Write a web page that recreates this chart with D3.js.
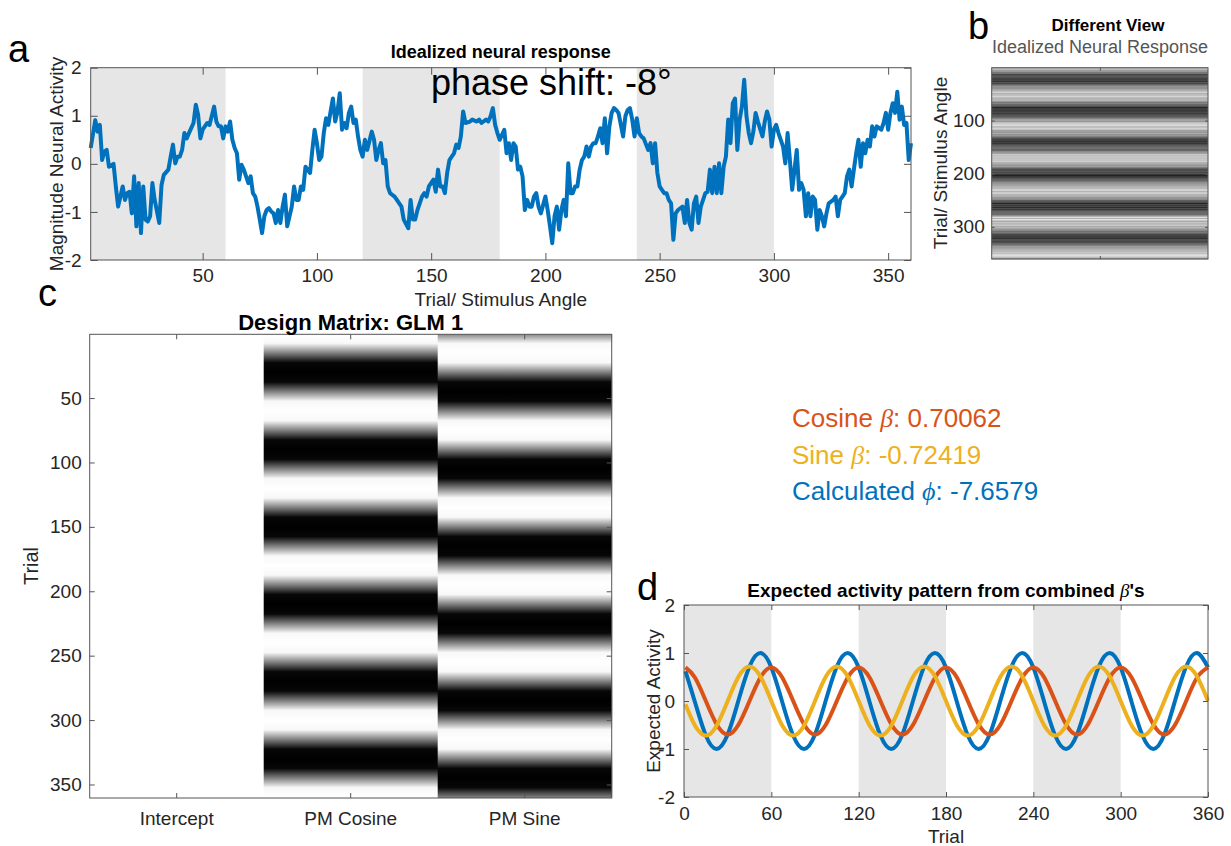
<!DOCTYPE html>
<html>
<head>
<meta charset="utf-8">
<script src="https://cdn.jsdelivr.net/npm/d3@7"></script>
<style>
  html, body { margin: 0; padding: 0; background: #fff; }
  svg { display: block; }
</style>
</head>
<body>
<svg id="fig" width="1231" height="846"></svg>
<script>
// ---- data ----
// panel a / b : idealized neural response, one value per (sampled) trial
const trialsA = [1,3,4,5,6,7,8,9,11,12,13,15,16,17,18,19,20,21,22,23,24,25,26,27,28,29,31,32,33,35,36,37,38,39,40,41,42,43,44,46,47,48,49,50,52,53,55,56,57,58,59,60,61,62,63,64,65,66,67,68,70,71,72,73,74,75,76,77,78,79,80,81,82,83,84,85,86,87,89,90,
  91,92,93,94,95,97,98,99,100,101,102,103,104,105,106,107,108,109,110,111,112,113,114,115,116,117,118,119,120,121,122,124,125,126,127,128,129,130,131,132,134,135,137,138,140,141,142,143,144,145,146,147,148,149,151,152,153,154,155,156,157,158,159,160,161,162,163,164,165,167,168,170,171,172,174,175,176,177,178,179,180,
  182,183,184,185,186,187,188,189,190,191,192,193,194,195,196,197,198,200,201,202,203,204,205,206,207,208,209,210,211,212,213,214,215,216,217,218,219,220,221,222,223,224,225,226,227,228,229,230,231,232,234,235,236,237,238,239,240,241,242,243,245,246,247,248,249,250,251,252,253,254,255,256,257,258,260,261,262,263,264,265,266,267,268,269,270,
  271,272,273,274,275,276,277,278,279,280,281,282,283,284,285,286,287,288,289,290,291,292,293,295,296,297,298,299,300,301,302,303,304,305,306,307,308,310,311,312,313,314,315,316,317,318,319,320,321,322,323,324,326,327,328,329,330,331,332,333,334,335,336,337,338,339,340,341,342,343,344,345,347,348,349,350,351,352,353,354,355,356,357,358,359,360];
const responseA = [0.33,0.91,0.67,0.81,0.08,0.26,0.29,-0.06,0.00,-0.47,-0.89,-0.47,-0.75,-0.61,-0.58,-1.03,-0.26,-1.30,-0.40,-1.44,-0.47,-1.16,-1.20,-1.09,-0.40,-0.75,-1.23,-0.44,-0.23,-0.12,0.15,0.40,0.01,0.15,0.15,0.29,0.64,0.53,0.64,0.85,1.23,1.02,0.53,0.71,0.85,0.81,1.19,0.88,0.78,0.78,0.53,0.78,0.67,0.88,0.50,0.33,0.22,-0.33,-0.02,-0.12,-0.40,-0.26,-0.61,-0.68,-0.89,-1.16,-1.44,-1.09,-0.96,-0.92,-0.99,-1.03,-1.23,-0.96,-1.23,-0.89,-0.64,-1.30,-0.89,-0.47,
  -0.75,-0.75,-0.47,-0.54,-0.06,-0.19,0.29,0.71,0.43,0.08,0.15,0.64,0.95,0.81,1.09,1.36,0.88,1.09,1.47,0.71,0.85,0.74,1.06,1.19,0.85,0.92,0.57,0.29,0.15,0.50,0.29,0.67,0.50,0.08,0.29,0.43,0.01,0.08,-0.47,-0.61,-0.68,-0.75,-0.89,-1.16,-1.34,-0.75,-1.16,-1.16,-0.96,-0.82,-0.68,-0.61,-0.68,-0.47,-0.33,-0.58,-0.12,-0.47,-0.47,-0.61,-0.19,0.08,0.15,0.22,0.40,0.33,0.57,1.09,0.85,0.88,0.92,0.88,0.92,0.85,0.92,0.88,0.99,1.16,0.81,0.64,0.50,
  0.71,0.22,0.43,0.08,0.43,0.36,-0.12,-0.06,-0.26,-0.96,-0.75,-0.89,-0.89,-0.68,-0.61,-0.89,-1.03,-0.68,-0.96,-1.30,-1.65,-1.09,-0.89,-1.37,-0.96,-0.75,-1.09,0.01,-0.61,-0.61,-0.47,-0.47,-0.12,0.08,0.15,0.36,0.15,0.36,0.43,0.43,0.57,0.74,0.43,0.95,0.22,0.78,1.06,1.16,1.12,1.06,0.57,0.99,1.12,1.16,0.92,0.57,0.95,0.64,0.57,0.53,0.29,0.43,0.01,0.43,-0.19,-0.47,-0.54,-0.61,-0.61,-0.75,-0.82,-1.58,-1.03,-0.96,-0.89,-1.23,-0.75,-1.23,-1.37,-0.82,-0.68,-1.23,-0.89,-0.75,-0.61,
  -0.58,-0.12,-0.61,-0.06,-0.61,0.01,-0.61,-0.06,0.15,0.92,0.43,1.26,1.36,0.29,0.92,1.19,1.75,0.99,0.64,0.43,0.67,1.06,0.88,0.57,0.88,1.09,0.92,0.36,0.71,0.81,0.64,0.50,0.36,0.01,0.64,0.08,-0.54,0.29,-0.54,-0.40,-0.54,-1.09,-0.61,-1.09,-0.68,-0.75,-1.37,-0.96,-1.09,-1.30,-1.03,-0.82,-0.75,-0.68,-1.09,-0.75,-0.68,-0.61,-0.26,-0.12,-0.47,-0.12,0.22,0.50,-0.06,0.43,0.22,0.50,0.36,0.78,0.57,0.78,0.71,0.85,1.06,0.71,1.06,1.26,1.06,1.50,0.92,1.19,0.81,0.85,0.08,0.43];

// shaded trial ranges (panels a and d)
const shadedBands = [[0, 60], [120, 180], [240, 300]];

// panel c / d : sampled trials
const sampleTrials = [1,7.5,15,22.5,30,37.5,45,52.5,60,67.5,75,82.5,90,97.5,105,112.5,120,127.5,135,142.5,150,157.5,165,172.5,180,187.5,195,202.5,210,217.5,225,232.5,240,247.5,255,262.5,270,277.5,285,292.5,300,307.5,315,322.5,330,337.5,345,352.5,360];

// panel c : design matrix columns
const designColumns = ["Intercept", "PM Cosine", "PM Sine"];
const designIntercept = [1,1,1,1,1,1,1,1,1,1,1,1,1,1,1,1,1,1,1,1,1,1,1,1,1,1,1,1,1,1,1,1,1,1,1,1,1,1,1,1,1,1,1,1,1,1,1,1,1];
const designCos = [0.99,0.71,0,-0.71,-1,-0.71,0,0.71, 1,0.71,0,-0.71,-1,-0.71,0,0.71, 1,0.71,0,-0.71,-1,-0.71,0,0.71, 1,0.71,0,-0.71,-1,-0.71,0,0.71, 1,0.71,0,-0.71,-1,-0.71,0,0.71, 1,0.71,0,-0.71,-1,-0.71,0,0.71, 1];
const designSin = [0.10,0.71,1,0.71,0,-0.71,-1,-0.71, 0,0.71,1,0.71,0,-0.71,-1,-0.71, 0,0.71,1,0.71,0,-0.71,-1,-0.71, 0,0.71,1,0.71,0,-0.71,-1,-0.71, 0,0.71,1,0.71,0,-0.71,-1,-0.71, 0,0.71,1,0.71,0,-0.71,-1,-0.71, 0];

// panel d : expected activity from the betas
const combinedFit = [0.62,-0.02,-0.72,-1.00,-0.70,0.02,0.72,1.00, 0.70,-0.02,-0.72,-1.00,-0.70,0.02,0.72,1.00, 0.70,-0.02,-0.72,-1.00,-0.70,0.02,0.72,1.00, 0.70,-0.02,-0.72,-1.00,-0.70,0.02,0.72,1.00, 0.70,-0.02,-0.72,-1.00,-0.70,0.02,0.72,1.00, 0.70,-0.02,-0.72,-1.00,-0.70,0.02,0.72,1.00, 0.70];
const cosineFit = [0.70,0.49,0,-0.49,-0.70,-0.49,0,0.49, 0.70,0.49,0,-0.49,-0.70,-0.49,0,0.49, 0.70,0.49,0,-0.49,-0.70,-0.49,0,0.49, 0.70,0.49,0,-0.49,-0.70,-0.49,0,0.49, 0.70,0.49,0,-0.49,-0.70,-0.49,0,0.49, 0.70,0.49,0,-0.49,-0.70,-0.49,0,0.49, 0.70];
const sineFit = [-0.07,-0.51,-0.72,-0.51,0,0.51,0.72,0.51, 0,-0.51,-0.72,-0.51,0,0.51,0.72,0.51, 0,-0.51,-0.72,-0.51,0,0.51,0.72,0.51, 0,-0.51,-0.72,-0.51,0,0.51,0.72,0.51, 0,-0.51,-0.72,-0.51,0,0.51,0.72,0.51, 0,-0.51,-0.72,-0.51,0,0.51,0.72,0.51, 0];

// ticks
const ticksA_x = [50, 100, 150, 200, 250, 300, 350];
const ticksA_y = [-2, -1, 0, 1, 2];
const ticksB_y = [100, 200, 300];
const ticksC_y = [50, 100, 150, 200, 250, 300, 350];
const ticksD_x = [0, 60, 120, 180, 240, 300, 360];
const ticksD_y = [-2, -1, 0, 1, 2];

const betaText = [
  {name: "Cosine ", sym: "β", value: ": 0.70062", color: "#D95319"},
  {name: "Sine ", sym: "β", value: ": -0.72419", color: "#EDB120"},
  {name: "Calculated ", sym: "ϕ", value: ": -7.6579", color: "#0072BD"}
];

// ---- drawing ----
const FONT = "'Liberation Sans', Arial, Helvetica, sans-serif";
const BLUE = "#0072BD", RED = "#D95319", YELLOW = "#EDB120";
const svg = d3.select("#fig");
svg.append("rect").attr("width", 1231).attr("height", 846).attr("fill", "#fff");

// MATLAB-like box: ticks pointing inward on all four sides
function boxAxes(g, x, y, o) {
  const xr = x.range(), yr = y.range();
  const left = Math.min(...xr), right = Math.max(...xr);
  const top = Math.min(...yr), bottom = Math.max(...yr);
  const fmt = o.xFormat || (d => String(d));
  const axes = [
    [d3.axisBottom(x).tickValues(o.xTicks).tickFormat(fmt).tickPadding(o.padX), `translate(0,${bottom})`],
    [d3.axisTop(x).tickValues(o.xTicks).tickFormat(""), `translate(0,${top})`],
    [d3.axisLeft(y).tickValues(o.yTicks).tickFormat(d => String(d)).tickPadding(o.padY), `translate(${left},0)`],
    [d3.axisRight(y).tickValues(o.yTicks).tickFormat(""), `translate(${right},0)`]
  ];
  axes.forEach(([ax, tr]) => {
    const a = g.append("g").attr("transform", tr)
      .call(ax.tickSizeInner(-o.tick).tickSizeOuter(0))
      .attr("font-family", FONT).attr("font-size", o.fontSize || 19)
      .attr("color", "#262626");
    a.select(".domain").remove();
    a.selectAll(".tick line").attr("stroke", "#555");
  });
  g.append("rect")
    .attr("x", left).attr("y", top)
    .attr("width", right - left).attr("height", bottom - top)
    .attr("fill", "none").attr("stroke", "#555").attr("stroke-width", 1);
}

function label(txt, x, y, size, opts = {}) {
  const t = svg.append("text")
    .attr("x", x).attr("y", y)
    .attr("font-family", FONT).attr("font-size", size)
    .attr("fill", opts.fill || "#262626")
    .attr("font-weight", opts.bold ? "bold" : "normal")
    .attr("text-anchor", opts.anchor || "middle")
    .text(txt);
  if (opts.rotate) t.attr("transform", `rotate(-90,${x},${y})`);
  return t;
}

// ---------- panel a ----------
const xA = d3.scaleLinear().domain([1, 360]).range([90.7, 911]).clamp(true);
const yA = d3.scaleLinear().domain([-2, 2]).range([260, 67.7]);
const gA = svg.append("g");
gA.selectAll("rect.band").data(shadedBands).join("rect")
  .attr("class", "band")
  .attr("x", d => xA(d[0])).attr("width", d => xA(d[1]) - xA(d[0]))
  .attr("y", yA(2)).attr("height", yA(-2) - yA(2))
  .attr("fill", "#e6e6e6");
gA.append("path")
  .datum(trialsA.map((t, i) => [t, responseA[i]]))
  .attr("fill", "none").attr("stroke", BLUE).attr("stroke-width", 4)
  .attr("stroke-linejoin", "round")
  .attr("d", d3.line().x(d => xA(d[0])).y(d => yA(d[1])));
boxAxes(gA, xA, yA, {xTicks: ticksA_x, yTicks: ticksA_y, tick: 7, padX: 9, padY: 9});
label("Idealized neural response", 500.8, 58, 18, {bold: true, fill: "#000"});
label("phase shift: -8°", 431, 95, 36, {anchor: "start", fill: "#000"});
label("Magnitude Neural Activity", 63, 164, 19, {rotate: true});
label("Trial/ Stimulus Angle", 500.8, 306, 19);

// ---------- panel b ----------
const xB = d3.scaleLinear().domain([0.5, 1.5]).range([991.7, 1208]);
const yB = d3.scaleLinear().domain([0.5, 360.5]).range([67.7, 259]);
const grayB = d3.scaleLinear().domain(d3.extent(responseA)).range(["#000", "#fff"]);
const gB = svg.append("g");
gB.selectAll("rect.row").data(trialsA).join("rect")
  .attr("class", "row")
  .attr("x", xB(0.5)).attr("width", xB(1.5) - xB(0.5))
  .attr("y", (t, i) => yB(i === 0 ? 0.5 : (trialsA[i - 1] + t) / 2))
  .attr("height", (t, i) => {
    const a = i === 0 ? 0.5 : (trialsA[i - 1] + t) / 2;
    const b = i === trialsA.length - 1 ? 360.5 : (trialsA[i + 1] + t) / 2;
    return yB(b) - yB(a) + 0.3;
  })
  .attr("fill", (t, i) => grayB(responseA[i]));
boxAxes(gB, xB, yB, {xTicks: [1], xFormat: () => "", yTicks: ticksB_y, tick: 3, padX: 6, padY: 7});
label("Different View", 1108, 31, 17, {bold: true, fill: "#000"});
label("Idealized Neural Response", 1100, 53, 18, {fill: "#555"});
label("Trial/ Stimulus Angle", 947, 163, 19, {rotate: true});

// ---------- panel c ----------
const xC = d3.scaleBand().domain(designColumns).range([89.7, 611.7]).padding(0);
const yC = d3.scaleLinear().domain([0.5, 360.5]).range([334.3, 798]);
const grayC = d3.scaleLinear().domain([-0.75, 0.75]).range(["#000", "#fff"]).clamp(true);
const designData = [designIntercept, designCos, designSin];
const defs = svg.append("defs");
designColumns.forEach((c, j) => {
  const grad = defs.append("linearGradient")
    .attr("id", "dm" + j).attr("gradientUnits", "userSpaceOnUse")
    .attr("x1", 0).attr("x2", 0).attr("y1", yC(0.5)).attr("y2", yC(360.5));
  grad.selectAll("stop").data(sampleTrials).join("stop")
    .attr("offset", t => (yC(t) - yC(0.5)) / (yC(360.5) - yC(0.5)))
    .attr("stop-color", (t, i) => grayC(designData[j][i]));
});
const gC = svg.append("g");
gC.selectAll("rect.col").data(designColumns).join("rect")
  .attr("class", "col")
  .attr("x", d => xC(d)).attr("width", xC.bandwidth() + 0.5)
  .attr("y", yC(0.5)).attr("height", yC(360.5) - yC(0.5))
  .attr("fill", (d, j) => `url(#dm${j})`);
boxAxes(gC, xC, yC, {xTicks: designColumns, xFormat: d => d, yTicks: ticksC_y, tick: 5, padX: 14, padY: 8});
label("Design Matrix: GLM 1", 350.7, 330, 22, {bold: true, fill: "#000"});
label("Trial", 38, 566, 20, {rotate: true});

// ---------- beta text ----------
betaText.forEach((b, i) => {
  const t = svg.append("text")
    .attr("x", 792).attr("y", 427 + i * 36.7)
    .attr("font-family", FONT).attr("font-size", 26).attr("fill", b.color);
  t.append("tspan").text(b.name);
  t.append("tspan").attr("font-family", "'Liberation Serif', 'DejaVu Serif', serif")
    .attr("font-style", "italic").text(b.sym);
  t.append("tspan").text(b.value);
});

// ---------- panel d ----------
const xD = d3.scaleLinear().domain([0, 360]).range([684, 1208]);
const yD = d3.scaleLinear().domain([-2, 2]).range([797, 605]);
const gD = svg.append("g");
gD.selectAll("rect.band").data(shadedBands).join("rect")
  .attr("class", "band")
  .attr("x", d => xD(d[0])).attr("width", d => xD(d[1]) - xD(d[0]))
  .attr("y", yD(2)).attr("height", yD(-2) - yD(2))
  .attr("fill", "#e6e6e6");
const lineD = d3.line().curve(d3.curveNatural).x(d => xD(d[0])).y(d => yD(d[1]));
[[combinedFit, BLUE], [cosineFit, RED], [sineFit, YELLOW]].forEach(([vals, col]) => {
  gD.append("path")
    .datum(sampleTrials.map((t, i) => [t, vals[i]]))
    .attr("fill", "none").attr("stroke", col).attr("stroke-width", 4)
    .attr("d", lineD);
});
boxAxes(gD, xD, yD, {xTicks: ticksD_x, yTicks: ticksD_y, tick: 5, padX: 10, padY: 9});
const tD = svg.append("text")
  .attr("x", 946).attr("y", 597).attr("text-anchor", "middle")
  .attr("font-family", FONT).attr("font-size", 19).attr("font-weight", "bold").attr("fill", "#000");
tD.append("tspan").text("Expected activity pattern from combined ");
tD.append("tspan").attr("font-family", "'Liberation Serif', 'DejaVu Serif', serif")
  .attr("font-style", "italic").attr("font-weight", "normal").text("β");
tD.append("tspan").text("'s");
label("Expected Activity", 660, 701, 19, {rotate: true});
label("Trial", 946, 843, 19);

// ---------- panel letters ----------
[["a", 8, 62], ["b", 968, 39], ["c", 38, 306], ["d", 637, 600]].forEach(([l, x, y]) => {
  label(l, x, y, 38, {anchor: "start", fill: "#000"});
});
</script>
</body>
</html>
